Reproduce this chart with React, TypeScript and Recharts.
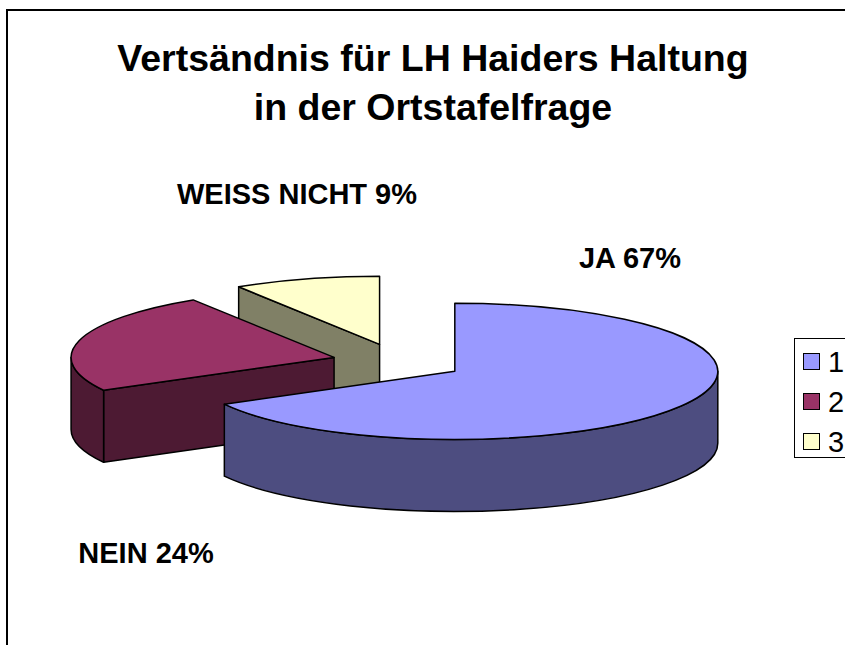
import { Legend, Pie, PieChart } from "recharts";

const FONT = '"Liberation Sans", Arial, sans-serif';

const categories = ["1", "2", "3"];
const shares = [67, 24, 9];
const labels = ["JA 67%", "NEIN 24%", "WEISS NICHT 9%"];
const topColors = ["#9999FF", "#993366", "#FFFFCC"];
const sideColors = ["#4D4D80", "#4D1A33", "#808066"];
const titleLines = ["Vertsändnis für LH Haiders Haltung", "in der Ortstafelfrage"];

// painted back to front, so the last category goes first
const pieData = categories
  .map((name, i) => ({
    name,
    value: shares[i],
    label: labels[i],
    fill: topColors[i],
    side: sideColors[i],
  }))
  .reverse();

const labelSpots: Record<string, { x: number; y: number }> = {
  "1": { x: 630, y: 268 },
  "2": { x: 146, y: 563 },
  "3": { x: 297, y: 204 },
};

const TILT = 0.259;
const DEPTH = 72;
const EXPLODE = 66;
const EXPLODE_Y = 18.4;
const rad = (d: number) => (d * Math.PI) / 180;

function Slice3D(props: any) {
  const { cx, cy, outerRadius, startAngle, endAngle, fill, side } = props;
  // angles clockwise from 12 o'clock
  const a0 = 90 - endAngle;
  const a1 = 90 - startAngle;
  const mid = rad((a0 + a1) / 2);
  const ox = cx + EXPLODE * Math.sin(mid);
  const oy = cy - EXPLODE_Y * Math.cos(mid);
  const rx = outerRadius;
  const ry = outerRadius * TILT;
  const pt = (a: number, dy = 0) =>
    `${ox + rx * Math.sin(rad(a))} ${oy - ry * Math.cos(rad(a)) + dy}`;
  const big = (from: number, to: number) => (to - from > 180 ? 1 : 0);
  const wall = (a: number) =>
    `M${ox} ${oy}L${pt(a)}L${pt(a, DEPTH)}L${ox} ${oy + DEPTH}Z`;

  const f0 = Math.max(a0, -270);
  const f1 = Math.min(a1, -90);

  return (
    <g stroke="#000" strokeWidth={1.5} strokeLinejoin="round">
      {Math.sin(rad(a0)) < -0.01 && <path d={wall(a0)} fill={side} />}
      {Math.sin(rad(a1)) > 0.01 && <path d={wall(a1)} fill={side} />}
      {f1 > f0 && (
        <path
          d={`M${pt(f0)}A${rx} ${ry} 0 ${big(f0, f1)} 1 ${pt(f1)}L${pt(f1, DEPTH)}A${rx} ${ry} 0 ${big(f0, f1)} 0 ${pt(f0, DEPTH)}Z`}
          fill={side}
        />
      )}
      <path
        d={`M${ox} ${oy}L${pt(a0)}A${rx} ${ry} 0 ${big(a0, a1)} 1 ${pt(a1)}Z`}
        fill={fill}
      />
    </g>
  );
}

function SliceLabel(props: any) {
  const spot = labelSpots[props.name];
  return (
    <text
      x={spot.x}
      y={spot.y}
      textAnchor="middle"
      fontFamily={FONT}
      fontWeight="bold"
      fontSize={29}
      fill="#000"
    >
      {props.label}
    </text>
  );
}

function LegendBox() {
  return (
    <div
      style={{
        position: "absolute",
        left: 794,
        top: 338,
        width: 60,
        height: 120,
        boxSizing: "border-box",
        border: "1px solid #000",
        background: "#fff",
        fontFamily: FONT,
        fontSize: 29,
      }}
    >
      {categories.map((c, i) => (
        <div
          key={c}
          style={{ position: "absolute", left: 0, top: 12 + i * 40, height: 28, lineHeight: "28px" }}
        >
          <span
            style={{
              position: "absolute",
              left: 8,
              top: 2,
              width: 15,
              height: 15,
              border: "1.5px solid #000",
              background: topColors[i],
            }}
          />
          <span style={{ position: "absolute", left: 33, top: -3 }}>{c}</span>
        </div>
      ))}
    </div>
  );
}

export default function App() {
  return (
    <div style={{ position: "absolute", left: 0, top: 0, width: 845, height: 645, overflow: "hidden", background: "#fff" }}>
      <div
        style={{
          position: "absolute",
          left: 6,
          top: 9,
          width: 900,
          height: 700,
          border: "2px solid #000",
        }}
      />
      <div
        style={{
          position: "absolute",
          left: 33,
          top: 34,
          width: 800,
          textAlign: "center",
          fontFamily: FONT,
          fontWeight: "bold",
          fontSize: 37.5,
          lineHeight: "49px",
        }}
      >
        {titleLines.map((t) => (
          <div key={t}>{t}</div>
        ))}
      </div>
      <PieChart
        width={845}
        height={645}
        margin={{ top: 0, right: 0, bottom: 0, left: 0 }}
        style={{ position: "absolute", left: 0, top: 0 }}
      >
        <Pie
          data={pieData}
          dataKey="value"
          nameKey="name"
          cx={398}
          cy={362}
          outerRadius={263}
          startAngle={90}
          endAngle={450}
          stroke="none"
          isAnimationActive={false}
          shape={Slice3D}
          label={SliceLabel}
          labelLine={false}
        />
        <Legend content={LegendBox} wrapperStyle={{ position: "static" }} />
      </PieChart>
    </div>
  );
}
